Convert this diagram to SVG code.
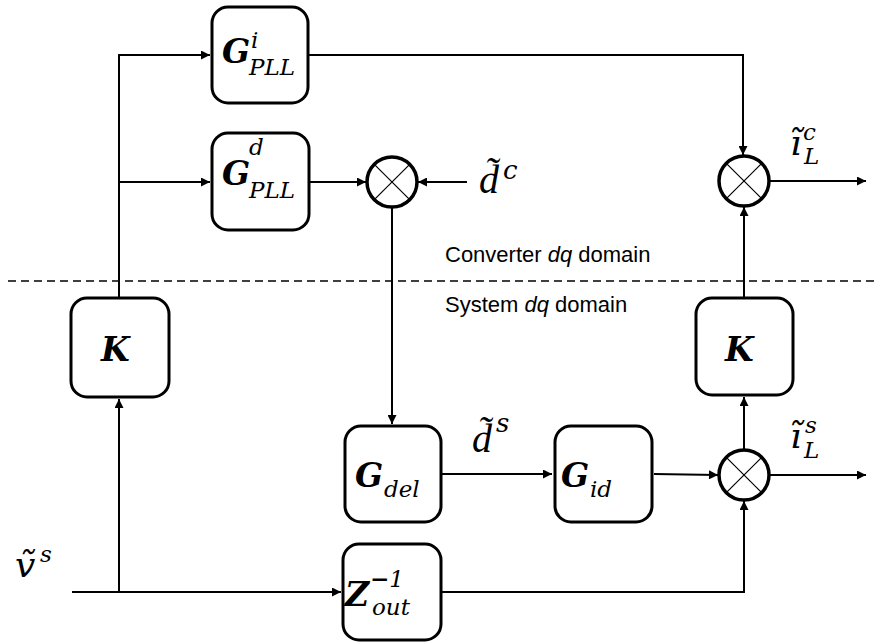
<svg xmlns="http://www.w3.org/2000/svg" width="877" height="642" viewBox="0 0 877 642">
<defs>
<marker id="ah" viewBox="0 0 10 10" refX="10" refY="5" markerWidth="11" markerHeight="9" markerUnits="userSpaceOnUse" orient="auto"><path d="M0,0 L10,5 L0,10 z" fill="#000"/></marker>
<style>
.box{fill:#fff;stroke:#000;stroke-width:3}
.sum{fill:#fff;stroke:#000;stroke-width:3.5}
.x{stroke:#000;stroke-width:1.2}
.c{fill:none;stroke:#000;stroke-width:2}
.ca{fill:none;stroke:#000;stroke-width:2;marker-end:url(#ah)}
.G{font-family:"DejaVu Serif",serif;font-style:italic;font-weight:bold;font-size:33px}
.s{font-family:"DejaVu Serif",serif;font-style:italic;font-size:23px}
.L{font-family:"DejaVu Serif",serif;font-style:italic;font-size:36px}
.D{font-family:"Liberation Serif",serif;font-style:italic;font-size:40px}
.sup{font-family:"DejaVu Serif",serif;font-style:italic;font-size:26px}
.t{font-family:"Liberation Sans",Arial,sans-serif;font-size:22px}
</style>
</defs>
<rect width="877" height="642" fill="#fff"/>
<g id="connectors">
<line class="ca" x1="72" y1="592" x2="341" y2="592"/>
<line class="ca" x1="119" y1="592" x2="119" y2="399"/>
<polyline class="c" points="119,298 119,55 150,55"/>
<line class="ca" x1="119" y1="55" x2="210" y2="55"/>
<line class="ca" x1="119" y1="182" x2="210" y2="182"/>
<polyline class="ca" points="309,55 743,55 743,155"/>
<line class="ca" x1="310" y1="182" x2="366" y2="182"/>
<line class="ca" x1="467" y1="182" x2="418" y2="182"/>
<line class="ca" x1="392" y1="208" x2="392" y2="424"/>
<line class="ca" x1="442" y1="474" x2="552" y2="474"/>
<line class="ca" x1="654" y1="474" x2="718" y2="475"/>
<polyline class="ca" points="442,592 744,592 744,501"/>
<line class="ca" x1="744" y1="450" x2="744" y2="397"/>
<line class="ca" x1="744" y1="297" x2="744" y2="207"/>
<line class="ca" x1="770" y1="181" x2="866" y2="181"/>
<line class="ca" x1="770" y1="475" x2="866" y2="475"/>
<line x1="8" y1="281" x2="877" y2="281" stroke="#000" stroke-width="1.5" stroke-dasharray="8 5"/>
</g>
<g id="GPLLi">
<rect class="box" x="212" y="7" width="96" height="96" rx="16"/>
<text class="G" x="222" y="63">G</text>
<text class="s" x="251" y="48" font-size="22">i</text>
<text class="s" x="249" y="75" font-size="22">PLL</text>
</g>
<g id="GPLLd">
<rect class="box" x="212" y="133" width="97" height="97" rx="16"/>
<text class="G" x="222" y="185">G</text>
<text class="s" x="249" y="155" font-size="22">d</text>
<text class="s" x="249" y="198" font-size="22">PLL</text>
</g>
<g id="Kleft">
<rect class="box" x="71" y="298" width="98" height="99" rx="16"/>
<text class="G" x="101" y="361">K</text>
</g>
<g id="Kright">
<rect class="box" x="696" y="298" width="97" height="97" rx="16"/>
<text class="G" x="725" y="361">K</text>
</g>
<g id="Gdel">
<rect class="box" x="345" y="426" width="96" height="96" rx="16"/>
<text class="G" x="355" y="487">G</text>
<text class="s" x="384" y="497" font-size="25">del</text>
</g>
<g id="Gid">
<rect class="box" x="555" y="426" width="97" height="96" rx="16"/>
<text class="G" x="561" y="487">G</text>
<text class="s" x="590" y="497" font-size="25">id</text>
</g>
<g id="Zout">
<rect class="box" x="343" y="544" width="98" height="96" rx="16"/>
<text class="G" x="345" y="606">Z</text>
<text class="s" x="370" y="587" font-size="21"><tspan font-weight="bold">−</tspan>1</text>
<text class="s" x="372" y="615" font-size="22">out</text>
</g>
<g id="sumTop">
<circle class="sum" cx="744" cy="181" r="25"/>
<line class="x" x1="726.3" y1="163.3" x2="761.7" y2="198.7"/>
<line class="x" x1="726.3" y1="198.7" x2="761.7" y2="163.3"/>
</g>
<g id="sumMid">
<circle class="sum" cx="392" cy="182" r="25"/>
<line class="x" x1="374.3" y1="164.3" x2="409.7" y2="199.7"/>
<line class="x" x1="374.3" y1="199.7" x2="409.7" y2="164.3"/>
</g>
<g id="sumBot">
<circle class="sum" cx="744" cy="475" r="25"/>
<line class="x" x1="726.3" y1="457.3" x2="761.7" y2="492.7"/>
<line class="x" x1="726.3" y1="492.7" x2="761.7" y2="457.3"/>
</g>
<g id="labels">
<text class="D" x="479" y="193">d̃<tspan class="sup" dx="4" dy="-14">c</tspan></text>
<text class="D" x="472" y="452">d̃<tspan class="sup" dx="4" dy="-20">s</tspan></text>
<text class="L" x="790" y="155" font-size="34">ĩ</text>
<text class="s" x="803" y="140" font-size="24">c</text>
<text class="s" x="804" y="164">L</text>
<text class="L" x="790" y="448" font-size="34">ĩ</text>
<text class="s" x="805" y="433" font-size="24">s</text>
<text class="s" x="804" y="458">L</text>
<text class="L" x="15" y="577">ṽ</text>
<text class="s" x="40" y="562" font-size="25">s</text>
<text class="t" x="445" y="262">Converter <tspan font-style="italic">dq</tspan> domain</text>
<text class="t" x="445" y="312">System <tspan font-style="italic">dq</tspan> domain</text>
</g>
</svg>
